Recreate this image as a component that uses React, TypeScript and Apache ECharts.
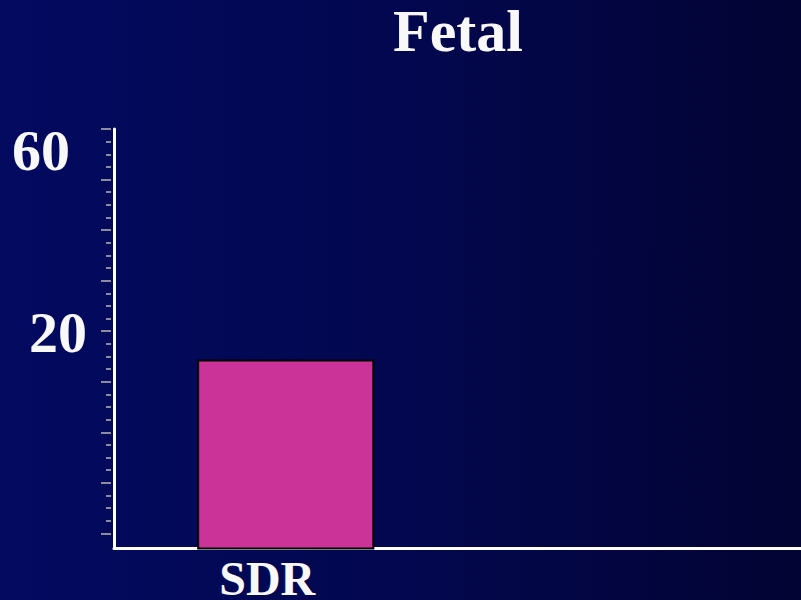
import React, { useEffect, useRef } from "react";
import * as echarts from "echarts";

const title = "Fetal";
const categories = ["SDR", ""];
const values = [14.2, null];
const yMin = -23;
const yMax = 60;
const yLabelValues = [20, 60];
const majorTicks = [-20, -10, 0, 10, 20, 30, 40, 50, 60];
const minorTicks = [
  -17.5, -15, -12.5, -7.5, -5, -2.5, 2.5, 5, 7.5, 12.5, 15, 17.5, 22.5, 25, 27.5,
  32.5, 35, 37.5, 42.5, 45, 47.5, 52.5, 55, 57.5,
];

const FONT = "'Liberation Serif', 'Times New Roman', serif";
const TEXT = "#f8f8f8";
const TICK = "#8c8c9c";

export default function App() {
  const ref = useRef<HTMLDivElement>(null);
  useEffect(() => {
    if (!ref.current) return;
    const chart = echarts.init(ref.current, undefined, { renderer: "svg" });
    const baseY = {
      type: "value" as const,
      position: "left" as const,
      min: yMin,
      max: yMax,
      splitLine: { show: false },
    };
    chart.setOption({
      animation: false,
      backgroundColor: {
        type: "linear",
        x: 0,
        y: 0,
        x2: 1,
        y2: 0,
        colorStops: [
          { offset: 0, color: "#030a60" },
          { offset: 0.5, color: "#03074f" },
          { offset: 1, color: "#020433" },
        ],
      },
      title: {
        text: title,
        left: 393,
        top: 1,
        padding: 0,
        textStyle: { color: TEXT, fontFamily: FONT, fontWeight: "bold", fontSize: 60 },
      },
      grid: { left: 114, top: 129, right: 0, height: 419.5, outerBoundsMode: "none", containLabel: false },
      xAxis: {
        type: "category",
        data: categories,
        axisLine: { show: true, onZero: false, lineStyle: { color: "#ffffff", width: 3 } },
        axisTick: { show: false },
        axisLabel: {
          color: TEXT,
          fontFamily: FONT,
          fontWeight: "bold",
          fontSize: 48,
          margin: 6,
          padding: [0, 37, 0, 0],
          interval: 0,
        },
      },
      yAxis: [
        {
          ...baseY,
          z: 3,
          axisLine: { show: true, onZero: false, lineStyle: { color: "#ffffff", width: 3 } },
          axisTick: { show: false },
          axisLabel: {
            customValues: yLabelValues,
            margin: 27,
            formatter: (v: number) => (v === 60 ? `{a|${v}}` : `{b|${v}}`),
            rich: {
              a: {
                color: TEXT, fontFamily: FONT, fontWeight: "bold", fontSize: 58,
                padding: [42, 17, 0, 0],
              },
              b: {
                color: TEXT, fontFamily: FONT, fontWeight: "bold", fontSize: 58,
                padding: [3, 0, 0, 0],
              },
            },
          },
        },
        {
          ...baseY,
          offset: 3,
          axisLine: { show: false, onZero: false },
          axisLabel: { show: false },
          axisTick: {
            show: true,
            customValues: majorTicks,
            length: 10,
            lineStyle: { color: TICK, width: 2 },
          },
        },
        {
          ...baseY,
          offset: 3,
          axisLine: { show: false, onZero: false },
          axisLabel: { show: false },
          axisTick: {
            show: true,
            customValues: minorTicks,
            length: 5,
            lineStyle: { color: TICK, width: 2 },
          },
        },
      ],
      series: [
        {
          type: "custom",
          yAxisIndex: 0,
          z: 1,
          data: values.map((v, i) => [i, v]).filter((d) => d[1] != null),
          renderItem: (params: any, api: any) => {
            const x = api.value(0);
            const v = api.value(1);
            const top = api.coord([x, v]);
            const bottom = api.coord([x, yMin]);
            const bw = api.size([1, 0])[0] * 0.51;
            return {
              type: "rect",
              shape: { x: top[0] - bw / 2, y: top[1], width: bw, height: bottom[1] - top[1] },
              style: { fill: "#cc3399", stroke: "#000000", lineWidth: 2 },
            };
          },
        },
      ],
    });
    return () => chart.dispose();
  }, []);
  return (
    <div
      ref={ref}
      style={{ position: "fixed", left: 0, top: 0, width: 801, height: 600 }}
    />
  );
}
